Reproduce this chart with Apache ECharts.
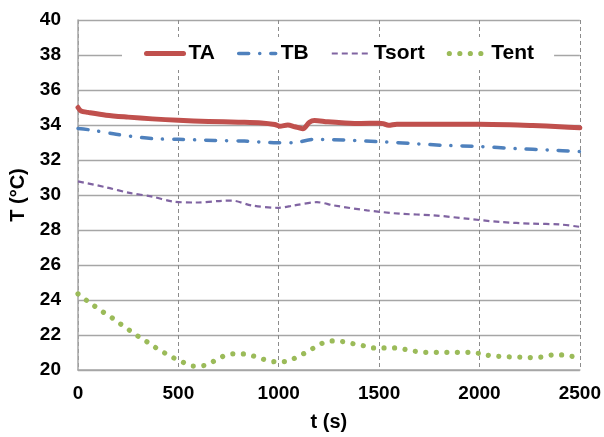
<!DOCTYPE html>
<html>
<head>
<meta charset="utf-8">
<script src="https://cdn.jsdelivr.net/npm/echarts@6/dist/echarts.min.js"></script>
<style>
html,body{margin:0;padding:0;background:#fff;}
#chart{width:604px;height:437px;}
</style>
</head>
<body>
<div id="chart"></div>
<script>
// ---- data ----
const seriesNames = ['TA', 'TB', 'Tsort', 'Tent'];
const xTicks = [0, 500, 1000, 1500, 2000, 2500];
const yTicks = [20, 22, 24, 26, 28, 30, 32, 34, 36, 38, 40];

const tA = [0, 15, 50, 140, 250, 370, 500, 650, 800, 914, 980, 1005, 1045, 1080, 1120, 1153, 1178, 1244, 1330, 1409, 1499, 1520, 1547, 1588, 1700, 1850, 2001, 2150, 2265, 2400, 2500];
const vA = [35.0, 34.8, 34.72, 34.56, 34.45, 34.35, 34.27, 34.2, 34.16, 34.12, 34.03, 33.93, 34.0, 33.9, 33.79, 34.16, 34.26, 34.18, 34.12, 34.09, 34.1, 34.08, 33.98, 34.05, 34.05, 34.05, 34.05, 34.02, 33.97, 33.9, 33.84];

const tB = [0, 60, 190, 370, 500, 681, 829, 993, 1075, 1174, 1322, 1490, 1655, 1820, 2001, 2183, 2348, 2500];
const vB = [33.8, 33.72, 33.47, 33.22, 33.18, 33.12, 33.08, 32.99, 32.99, 33.18, 33.14, 33.05, 32.95, 32.84, 32.77, 32.65, 32.57, 32.48];

const tSort = [0, 140, 256, 370, 470, 585, 717, 766, 865, 997, 1075, 1190, 1276, 1440, 1604, 1770, 1935, 2100, 2265, 2397, 2500];
const vSort = [30.78, 30.44, 30.12, 29.91, 29.63, 29.57, 29.67, 29.68, 29.40, 29.27, 29.40, 29.59, 29.40, 29.12, 28.93, 28.84, 28.65, 28.46, 28.36, 28.32, 28.18];

const tEnt = [0, 46, 89, 132, 175, 218, 260, 303, 348, 392, 437, 482, 530, 578, 629, 678, 725, 774, 825, 876, 927, 977, 1029, 1079, 1125, 1171, 1217, 1266, 1319, 1370, 1421, 1472, 1525, 1576, 1627, 1680, 1731, 1782, 1834, 1886, 1938, 1992, 2053, 2106, 2159, 2211, 2264, 2315, 2366, 2419, 2471, 2485];
const vEnt = [24.35, 23.95, 23.6, 23.26, 22.94, 22.58, 22.24, 21.9, 21.58, 21.24, 20.94, 20.66, 20.41, 20.22, 20.26, 20.51, 20.79, 20.92, 20.92, 20.79, 20.60, 20.48, 20.48, 20.67, 20.94, 21.24, 21.53, 21.66, 21.62, 21.50, 21.39, 21.26, 21.26, 21.26, 21.18, 21.07, 21.01, 21.01, 21.01, 21.01, 21.01, 20.96, 20.82, 20.77, 20.75, 20.73, 20.71, 20.75, 20.86, 20.86, 20.77, 20.77];

const xName = 't (s)';
const yName = 'T (°C)';

// ---- build ----
function pairs(ts, vs) { return ts.map((t, i) => [t, vs[i]]); }

const FONT = 'Liberation Sans, Arial, sans-serif';
const styles = [
  {color: '#C0504D', width: 5, cap: 'round', join: 'round', type: 'solid'},
  {color: '#4F81BD', width: 3.5, type: [10, 11, 0.1, 11], cap: 'round'},
  {color: '#8064A2', width: 2.2, type: [6, 4], cap: 'butt'},
  {color: '#9BBB59', width: 5.2, type: [0.01, 10.5], cap: 'round'}
];
const seriesData = [pairs(tA, vA), pairs(tB, vB), pairs(tSort, vSort), pairs(tEnt, vEnt)];
const smooths = [0.3, 0.3, 0.3, 0.4];

const chart = echarts.init(document.getElementById('chart'), null, {renderer: 'canvas'});

chart.setOption({
  animation: false,
  backgroundColor: '#ffffff',
  grid: {left: 75, right: 23, top: 20, bottom: 64.5, containLabel: false},
  legend: {
    data: seriesNames.map((n, i) => ({name: n, lineStyle: Object.assign({}, styles[i])})),
    left: 122,
    top: 37,
    padding: [6, 20, 6, 22],
    backgroundColor: '#ffffff',
    itemGap: 22,
    itemWidth: 37,
    itemHeight: 14,
    itemStyle: {color: 'rgba(0,0,0,0)', borderWidth: 0, opacity: 0},
    textStyle: {fontFamily: FONT, fontWeight: 'bold', fontSize: 21, color: '#000'}
  },
  xAxis: {
    type: 'value',
    min: xTicks[0],
    max: xTicks[xTicks.length - 1],
    interval: xTicks[1] - xTicks[0],
    name: xName,
    nameLocation: 'middle',
    nameGap: 42,
    nameTextStyle: {fontFamily: FONT, fontWeight: 'bold', fontSize: 20, color: '#000'},
    axisLine: {show: true, lineStyle: {color: '#a6a6a6', width: 1.5}},
    axisTick: {show: false},
    axisLabel: {fontFamily: FONT, fontWeight: 'bold', fontSize: 19, color: '#000', margin: 14,
                formatter: v => String(v)},
    splitLine: {show: true, lineStyle: {color: '#8c8c8c', type: [4, 3], width: 1}}
  },
  yAxis: {
    type: 'value',
    min: yTicks[0],
    max: yTicks[yTicks.length - 1],
    interval: yTicks[1] - yTicks[0],
    name: yName,
    nameLocation: 'middle',
    nameGap: 50,
    nameTextStyle: {fontFamily: FONT, fontWeight: 'bold', fontSize: 20, color: '#000'},
    axisLine: {show: true, lineStyle: {color: '#a6a6a6', width: 1.5}},
    axisTick: {show: false},
    axisLabel: {fontFamily: FONT, fontWeight: 'bold', fontSize: 19, color: '#000', margin: 17,
                formatter: v => String(v)},
    splitLine: {show: true, lineStyle: {color: '#a6a6a6', width: 1.3}}
  },
  series: seriesNames.map((n, i) => ({
    name: n, type: 'line', data: seriesData[i], smooth: smooths[i],
    symbol: 'none', color: styles[i].color,
    lineStyle: Object.assign({}, styles[i])
  }))
});
</script>
</body>
</html>
